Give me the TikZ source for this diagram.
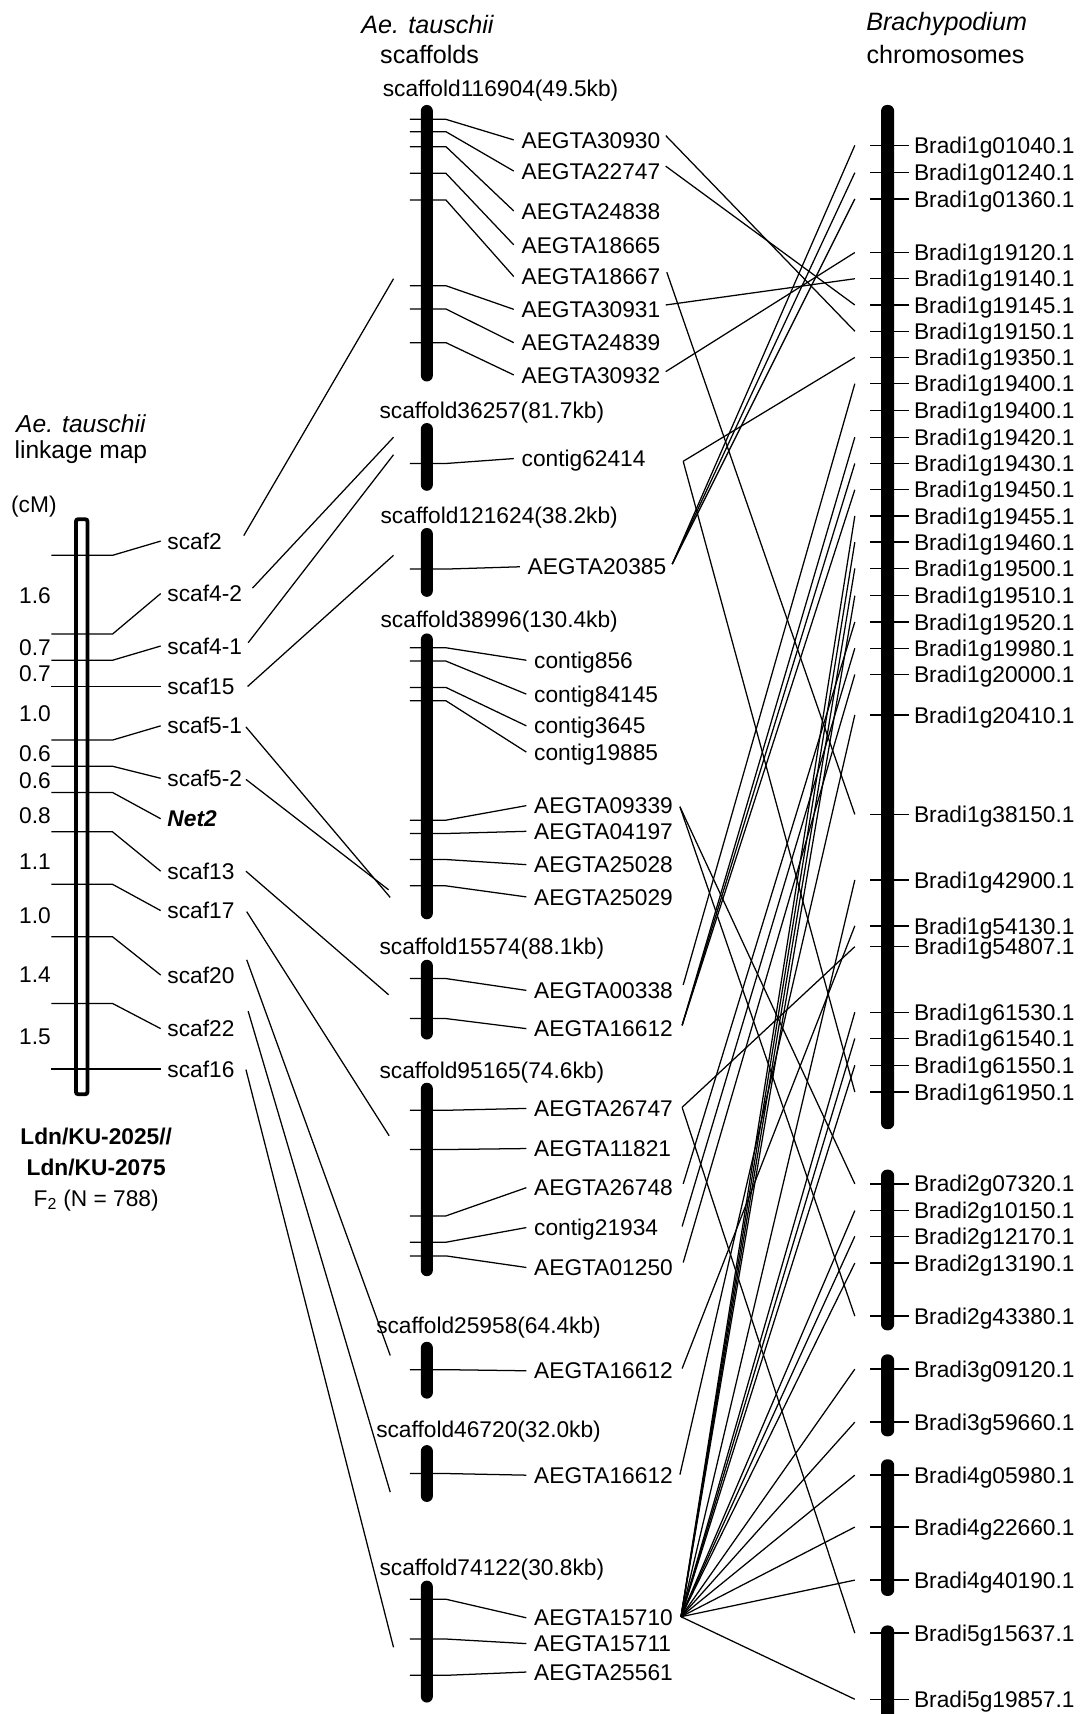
\documentclass[tikz,border=0pt]{standalone}
\usepackage{fontspec}
\setmainfont{Liberation Sans}
\begin{document}
\begin{tikzpicture}[x=1pt,y=-1pt]
\tikzset{
  txt/.style={font=\fontsize{20.8}{24}\selectfont, inner sep=0pt, text height=14.9pt, text depth=0pt},
  gene/.style={txt, anchor=west, inner xsep=7pt},
  ttl/.style={font=\fontsize{22.5}{26}\selectfont, inner sep=0pt},
  link/.style={line width=1.15pt},
  tickline/.style={line width=1.3pt},
  solidchrom/.style={fill=black, rounded corners=5.5pt},
}
\fill[white] (0,0) rectangle (991,1568);
\useasboundingbox (0,0) rectangle (991,1568);

% ---------------- linkage map ----------------
\node[ttl, font=\fontsize{22.5}{26}\selectfont\itshape] (lt1) at (74,388) {Ae. tauschii};
\node[ttl] (lt2) at (74,414) {linkage map};
\node[txt] (cm) at (31,461) {(cM)};
\draw[line width=3.5pt, rounded corners=2pt] (69.5,475) rectangle (80,1001);

\foreach \ym/\yl/\nm/\id in {508/495/scaf2/L1, 580/543/scaf4-2/L2, 604/591/scaf4-1/L3,
  628/628/scaf15/L4, 677/664/scaf5-1/L5, 701/712/scaf5-2/L6,
  725/749/{\bfseries\itshape Net2}/L7, 761/797/scaf13/L8, 809/833/scaf17/L9,
  857/892/scaf20/L10, 918/941/scaf22/L11, 978/978/scaf16/L12}{
  \node[txt, anchor=west] (\id) at (153,\yl) {\nm};
  \draw[link] (47,\ym) -- (103,\ym) -- ([xshift=-6pt]\id.west);
}
\foreach \y/\d/\id in {545/1.6/d1, 592/0.7/d2, 616/0.7/d3, 653/1.0/d4, 689/0.6/d5,
  714/0.6/d6, 746/0.8/d7, 788/1.1/d8, 837/1.0/d9, 891/1.4/d10, 948/1.5/d11}{
  \node[txt] (\id) at (32,\y) {\d};
}
\node[txt, font=\fontsize{20.8}{24}\selectfont\bfseries] (cross1) at (88,1040) {Ldn/KU-2025//};
\node[txt, font=\fontsize{20.8}{24}\selectfont\bfseries] (cross2) at (88,1068) {Ldn/KU-2075};
\node[txt] (pop) at (88,1096) {F\textsubscript{2} (N = 788)};

% ---------------- scaffolds ----------------
\node[ttl, font=\fontsize{23}{26}\selectfont\itshape] (mt1) at (391,22) {Ae. tauschii};
\node[ttl, font=\fontsize{23}{26}\selectfont] (mt2) at (393,50) {scaffolds};

% scaffold116904
\node[txt, anchor=west] (s1) at (350,81) {scaffold116904(49.5kb)};
\fill[solidchrom] (385,96) rectangle (396,349);
\foreach \ty/\ly/\nm/\id in {109.2/128/AEGTA30930/m1, 120.5/156.5/AEGTA22747/m2,
  134.2/193/AEGTA24838/m3, 158.6/224/AEGTA18665/m4, 183/253/AEGTA18667/m5,
  261.4/283/AEGTA30931/m6, 282.7/313.5/AEGTA24839/m7, 313.5/343/AEGTA30932/m8}{
  \node[gene] (\id) at (470,\ly) {\nm};
  \draw[link] (375,\ty) -- (408,\ty) -- (\id.west);
}
% scaffold36257
\node[txt, anchor=west] (s2) at (347,375) {scaffold36257(81.7kb)};
\fill[solidchrom] (385,387) rectangle (396,449);
\node[gene] (m9) at (470,419.5) {contig62414};
\draw[link] (375,424) -- (408,424) -- (m9.west);
% scaffold121624
\node[txt, anchor=west] (s3) at (348,471) {scaffold121624(38.2kb)};
\fill[solidchrom] (385,483) rectangle (396,546);
\node[gene] (m10) at (475.5,518.5) {AEGTA20385};
\draw[link] (375,520.6) -- (408,520.6) -- (m10.west);
% scaffold38996
\node[txt, anchor=west] (s4) at (348,567) {scaffold38996(130.4kb)};
\fill[solidchrom] (385,579.5) rectangle (396,841);
\foreach \ty/\ly/\nm/\id in {592.6/604/contig856/m11, 604.8/635/contig84145/m12,
  628.9/664/contig3645/m13, 641.1/688/contig19885/m14, 750.3/737/AEGTA09339/m15,
  762.5/760.5/AEGTA04197/m16, 786.3/791/AEGTA25028/m17, 810.4/820.5/AEGTA25029/m18}{
  \node[gene] (\id) at (481.5,\ly) {\nm};
  \draw[link] (375,\ty) -- (408,\ty) -- (\id.west);
}
% scaffold15574
\node[txt, anchor=west] (s5) at (347,866) {scaffold15574(88.1kb)};
\fill[solidchrom] (385,878) rectangle (396,951);
\foreach \ty/\ly/\nm/\id in {895.2/906/AEGTA00338/m19, 931.8/941/AEGTA16612/m20}{
  \node[gene] (\id) at (481.5,\ly) {\nm};
  \draw[link] (375,\ty) -- (408,\ty) -- (\id.west);
}
% scaffold95165
\node[txt, anchor=west] (s6) at (347,979) {scaffold95165(74.6kb)};
\fill[solidchrom] (385,990.5) rectangle (396,1167.5);
\foreach \ty/\ly/\nm/\id in {1015.7/1014/AEGTA26747/m21, 1051.6/1050.7/AEGTA11821/m22,
  1112.3/1086.5/AEGTA26748/m23, 1136.4/1123/contig21934/m24, 1148.9/1159.5/AEGTA01250/m25}{
  \node[gene] (\id) at (481.5,\ly) {\nm};
  \draw[link] (375,\ty) -- (408,\ty) -- (\id.west);
}
% scaffold25958
\node[txt, anchor=west] (s7) at (344,1212.5) {scaffold25958(64.4kb)};
\fill[solidchrom] (385,1227.5) rectangle (396,1279.5);
\node[gene] (m26) at (481.5,1254) {AEGTA16612};
\draw[link] (375,1253) -- (408,1253) -- (m26.west);
% scaffold46720
\node[txt, anchor=west] (s8) at (344,1308) {scaffold46720(32.0kb)};
\fill[solidchrom] (385,1322) rectangle (396,1374);
\node[gene] (m27) at (481.5,1349.5) {AEGTA16612};
\draw[link] (375,1348) -- (408,1348) -- (m27.west);
% scaffold74122
\node[txt, anchor=west] (s9) at (347,1433.5) {scaffold74122(30.8kb)};
\fill[solidchrom] (385,1446) rectangle (396,1557.5);
\foreach \ty/\ly/\nm/\id in {1463/1480/AEGTA15710/m28, 1499.4/1503.6/AEGTA15711/m29,
  1532.6/1529.6/AEGTA25561/m30}{
  \node[gene] (\id) at (481.5,\ly) {\nm};
  \draw[link] (375,\ty) -- (408,\ty) -- (\id.west);
}

% ---------------- linkage map to scaffolds ----------------
\foreach \id/\a/\b/\c/\d in {L1/223/490/360/255, L2/231/538/360/400, L3/227/588/360/416,
  L4/226.5/628/360/508, L5/225/665/357/821, L6/225/713/355.5/814, L8/225/797/355.5/910,
  L9/225.7/834/356/1039, L10/225.7/878/357/1240, L11/227/925/357/1365, L12/225/978.5/360/1507}{
  \coordinate (\id-out) at (\a,\b);
  \coordinate (\id-in) at (\c,\d);
  \draw[link] (\id-out) -- (\id-in);
}

% ---------------- Brachypodium ----------------
\node[ttl, font=\fontsize{23}{26}\selectfont\itshape] (rt1) at (866,22) {Brachypodium};
\node[ttl, font=\fontsize{23}{26}\selectfont] (rt2) at (865,50) {chromosomes};
\fill[solidchrom] (806,96) rectangle (818,1033);
\fill[solidchrom] (806,1070) rectangle (818,1217);
\fill[solidchrom] (806,1239) rectangle (818,1314);
\fill[solidchrom] (806,1335) rectangle (818,1460);
\fill[solidchrom] (806,1487) rectangle (818,1580);
\foreach \y/\nm/\id in {133/Bradi1g01040.1/b1, 158/Bradi1g01240.1/b2, 182/Bradi1g01360.1/b3,
  231/Bradi1g19120.1/b4, 255/Bradi1g19140.1/b5, 279/Bradi1g19145.1/b6, 303/Bradi1g19150.1/b7,
  327/Bradi1g19350.1/b8, 351/Bradi1g19400.1/b9, 375.5/Bradi1g19400.1/b10, 400/Bradi1g19420.1/b11,
  424/Bradi1g19430.1/b12, 448/Bradi1g19450.1/b13, 472/Bradi1g19455.1/b14, 496/Bradi1g19460.1/b15,
  520/Bradi1g19500.1/b16, 545/Bradi1g19510.1/b17, 569/Bradi1g19520.1/b18, 593/Bradi1g19980.1/b19,
  617/Bradi1g20000.1/b20, 654/Bradi1g20410.1/b21, 745/Bradi1g38150.1/b22, 805/Bradi1g42900.1/b23,
  847/Bradi1g54130.1/b24, 866/Bradi1g54807.1/b25, 926/Bradi1g61530.1/b26, 950/Bradi1g61540.1/b27,
  974.5/Bradi1g61550.1/b28, 999/Bradi1g61950.1/b29, 1083/Bradi2g07320.1/b30, 1107.5/Bradi2g10150.1/b31,
  1131/Bradi2g12170.1/b32, 1155.5/Bradi2g13190.1/b33, 1204/Bradi2g43380.1/b34, 1252.5/Bradi3g09120.1/b35,
  1301/Bradi3g59660.1/b36, 1349.5/Bradi4g05980.1/b37, 1397/Bradi4g22660.1/b38, 1445.5/Bradi4g40190.1/b39,
  1494/Bradi5g15637.1/b40, 1554.5/Bradi5g19857.1/b41}{
  \draw[tickline] (796,\y) -- (832,\y);
  \node[txt, anchor=west] (\id) at (836,\y) {\nm};
  \coordinate (\id-in) at (782,\y);
}

% ---------------- scaffold markers to Brachypodium genes ----------------
\foreach \id/\a/\b in {o30930/609/124, o22747/609/152, o18667/610/249, o30931/609/279,
  o30932/609/340, o62414/625/422, o20385/615/516, o09339/622/738, o00338/625/901,
  o16612a/624/938, o26747/624/1013, o26748/625/1083, o21934/624/1122, o01250/625/1155,
  o16612b/624/1252, o16612c/622/1349, o15710/623/1479}{
  \coordinate (\id) at (\a,\b);
}
\foreach \a/\b in {o30930/b7, o22747/b6, o18667/b22, o30931/b5, o30932/b4,
  o62414/b8, o62414/b29, o20385/b1, o20385/b2, o20385/b3, o09339/b30, o09339/b34,
  o00338/b9, o16612a/b11, o16612a/b12, o16612a/b13, o26747/b25, o26747/b40,
  o26748/b18, o21934/b19, o01250/b20, o16612b/b24, o16612c/b21,
  o15710/b14, o15710/b15, o15710/b16, o15710/b17, o15710/b23, o15710/b26, o15710/b27,
  o15710/b28, o15710/b31, o15710/b32, o15710/b33, o15710/b35, o15710/b36, o15710/b37,
  o15710/b38, o15710/b39, o15710/b41}{
  \draw[link] (\a) -- (\b-in);
}
\end{tikzpicture}
\end{document}
